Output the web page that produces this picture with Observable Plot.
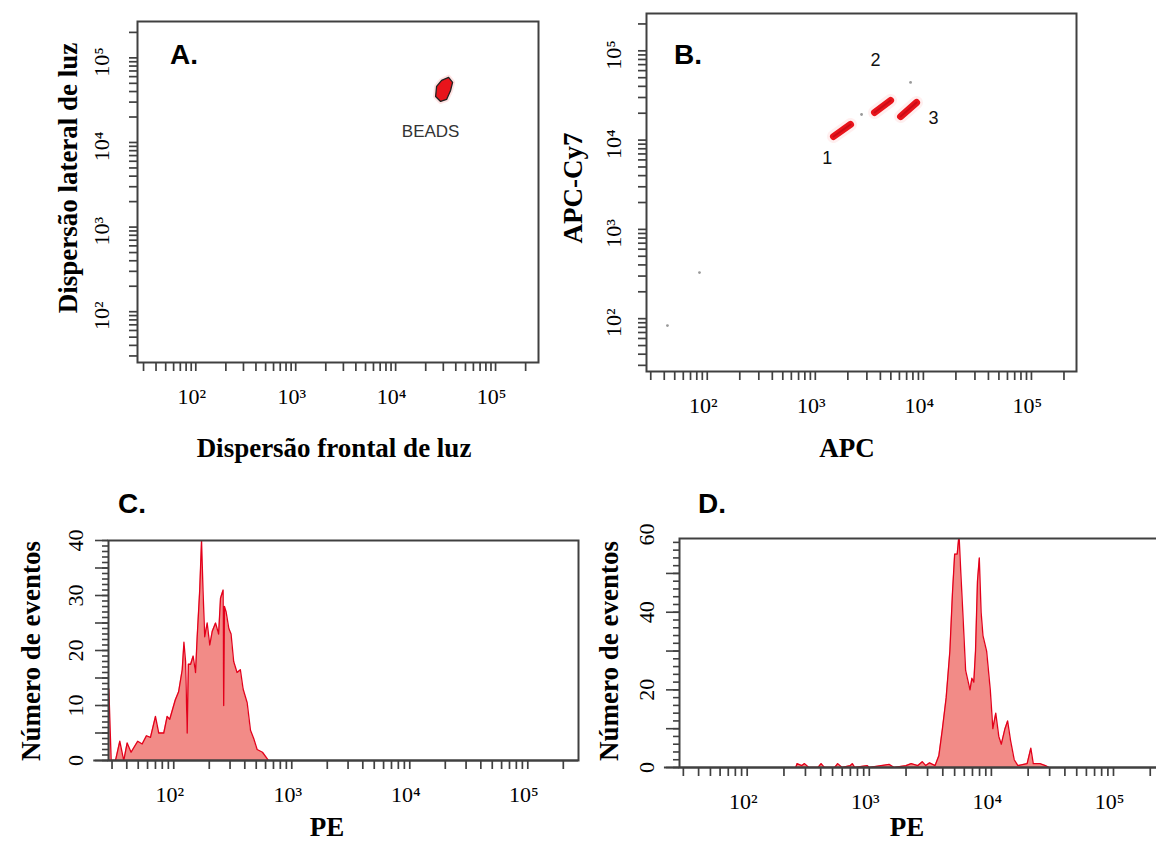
<!DOCTYPE html>
<html><head><meta charset="utf-8">
<script src="https://cdn.jsdelivr.net/npm/d3@7"></script>
<script src="https://cdn.jsdelivr.net/npm/@observablehq/plot@0.6"></script>
<style>
body{margin:0;background:#fff;overflow:hidden}
#wrap{position:relative;width:1156px;height:843px;overflow:hidden;background:#fff}
#wrap svg{position:absolute;overflow:visible}
.ttl{position:absolute;font-family:"Liberation Serif","Times New Roman",serif;font-weight:bold;font-size:27px;color:#000;white-space:nowrap;line-height:0.8;transform:translate(-50%,-50%)}
.rot{transform:translate(-50%,-50%) rotate(-90deg)}
.let{position:absolute;font-family:"Liberation Sans",Arial,sans-serif;font-weight:bold;font-size:28px;line-height:1;color:#000}
</style></head><body><div id="wrap"></div>
<script>
// ---------- tick definitions ----------
const logTicks = [30,40,50,60,70,80,90,100,200,300,400,500,600,700,800,900,1000,2000,3000,4000,5000,6000,7000,8000,9000,10000,20000,30000,40000,50000,60000,70000,80000,90000,100000,200000];
const logMajors = [100, 1000, 10000, 100000];
const logLabels = ["10²", "10³", "10⁴", "10⁵"];
const cYMajors = [0, 10, 20, 30, 40];
const cYLabels = ["0", "10", "20", "30", "40"];
const dYMajors = [0, 20, 40, 60];
const dYLabels = ["0", "20", "40", "60"];

// ---------- panel A: bead gate (FSC vs SSC) ----------
const aGateFSC = [28840, 33890, 37150, 35480, 32360, 28180, 25120, 25700];
const aGateSSC = [54100, 58750, 51290, 41230, 32280, 30550, 35000, 45950];
const aLabel = [{text: "BEADS", x: 22400, y: 13500}];

// ---------- panel B: APC vs APC-Cy7 bead clusters ----------
const bClusterAPC = [[1473, 2118], [3532, 4970], [6150, 8650]];
const bClusterCy7 = [[10970, 14960], [20380, 27800], [18370, 26370]];
const bStrayAPC = [7610, 2680, 84.7, 42.8];
const bStrayCy7 = [44260, 19360, 328, 83.6];
const bNumText = ["1", "2", "3"];
const bNumAPC = [1288, 3606, 12420];
const bNumCy7 = [6220, 78000, 17460];

// ---------- panel C: PE histogram ----------
const cPE = [28.2,29.5,32.1,34.9,37.7,40.3,43.5,46.4,49.5,54.0,58.7,63.5,70.0,74.6,82.3,87.9,92.5,103,110,118,122,126,130,133,139,146,153,158,166,172,177,183,192,202,212,226,240,249,262,265,269,278,293,306,322,344,367,387,419,447,476,509,565,635];
const cCount = [13,0,0,3.5,0,3.2,1.5,2.5,3.5,3.0,4.5,4.2,8.0,5.0,5.0,8.0,7.5,11,12.5,16.5,21.5,18,5,17.5,17.5,19,16,22.5,31,40,31,22.5,25,21,23.5,25,23,29.5,31,10,28,27,24,23,18,16,16.5,13,10.5,5.5,4,2,1.5,0];

// ---------- panel D: PE histogram ----------
const dPE = [250,256,280,295,320,380,403,430,520,551,600,700,727,760,960,1000,1453,1600,2000,2204,2500,2716,2900,3119,3459,3712,3973,4262,4571,4801,5003,5248,5433,5623,5834,6152,6467,6683,6918,7178,7413,7691,7962,8240,8531,9141,9795,10280,10860,11500,12060,12920,13580,14350,15380,16490,19630,21040,22030,25000,27730,29720];
const dCount = [0,1,0.5,1,0,0,1,0,0,1,0,0.5,1,0,0.5,0,0.8,0,0.5,1,0.5,1.5,0.5,1.2,0.5,3,10,18,30,45,55,55,60,50,40,25,22,20,23,22,30,48,54,40,34,30,20,10,14,8,6,10,12,7,2,0.5,1,5,1,1,0.5,0];

// ---------- helpers ----------
const serif = "Liberation Serif, Times New Roman, serif";
const sans = "Liberation Sans, Arial, sans-serif";
const axisCol = "#404040";
const wrap = document.getElementById("wrap");
function place(svg, left, top) { svg.style.left = left + "px"; svg.style.top = top + "px"; wrap.appendChild(svg); }

function logXAxis(dxLab) {
  return [
    Plot.axisX(logTicks, {anchor: "bottom", tickSize: 9, tickFormat: () => "", label: null, stroke: axisCol, strokeWidth: 1.7}),
    Plot.text(logMajors, {x: d => d, text: logLabels, frameAnchor: "bottom", textAnchor: "middle", lineAnchor: "bottom", dy: 41, dx: dxLab, fontSize: 22, fontFamily: serif, fill: "#000"})
  ];
}
function logYAxis(dxLab) {
  return [
    Plot.axisY(logTicks, {anchor: "left", tickSize: 8, tickFormat: () => "", label: null, stroke: axisCol, strokeWidth: 1.7}),
    Plot.text(logMajors, {y: d => d, text: logLabels, frameAnchor: "left", textAnchor: "middle", rotate: -90, lineAnchor: "bottom", dx: dxLab, dy: 4, fontSize: 22, fontFamily: serif, fill: "#000"})
  ];
}
function linYAxis(minor, major, majors, labels) {
  return [
    Plot.axisY(minor, {anchor: "left", tickSize: 6, tickFormat: () => "", label: null, stroke: axisCol, strokeWidth: 1.6}),
    Plot.axisY(major, {anchor: "left", tickSize: 13, tickFormat: () => "", label: null, stroke: axisCol, strokeWidth: 1.6}),
    Plot.text(majors, {y: d => d, text: labels, frameAnchor: "left", textAnchor: "middle", rotate: -90, lineAnchor: "bottom", dx: -26, fontSize: 22, fontFamily: serif, fill: "#000"})
  ];
}
const style = {background: "transparent", overflow: "visible"};

// ---------- Panel A ----------
const gateA = aGateFSC.map((x, i) => ({x, y: aGateSSC[i]}));
const svgA = Plot.plot({
  width: 580, height: 470, marginLeft: 137, marginRight: 42, marginTop: 21, marginBottom: 108,
  style,
  x: {type: "log", domain: [26.1, 269000]},
  y: {type: "log", domain: [25.1, 269000]},
  marks: [
    Plot.line(gateA, {x: "x", y: "y", curve: "linear-closed", fill: "#ffd0d0", stroke: "#ffd0d0", strokeWidth: 5, strokeOpacity: 0.6}),
    Plot.line(gateA, {x: "x", y: "y", curve: "linear-closed", fill: "#e8141b", stroke: "#222", strokeWidth: 1.3}),
    Plot.text(aLabel, {x: "x", y: "y", text: "text", fontSize: 17, fontFamily: sans, fill: "#333"}),
    Plot.frame({stroke: axisCol, strokeWidth: 2}),
    ...logXAxis(-4),
    ...logYAxis(-29)
  ]
});
place(svgA, 0, 0);

// ---------- Panel B ----------
const clustersB = bClusterAPC.flatMap((xs, k) => xs.map((x, i) => ({id: k, x, y: bClusterCy7[k][i]})));
const strayB = bStrayAPC.map((x, i) => ({x, y: bStrayCy7[i]}));
const numsB = bNumText.map((t, i) => ({t, x: bNumAPC[i], y: bNumCy7[i]}));
const svgB = Plot.plot({
  width: 576, height: 470, marginLeft: 66, marginRight: 80, marginTop: 13, marginBottom: 99,
  style,
  x: {type: "log", domain: [27.4, 261200]},
  y: {type: "log", domain: [25.6, 261800]},
  marks: [
    Plot.line(clustersB, {x: "x", y: "y", z: "id", stroke: "#ffd8d8", strokeWidth: 13, strokeOpacity: 0.4, strokeLinecap: "round"}),
    Plot.line(clustersB, {x: "x", y: "y", z: "id", stroke: "#e8141b", strokeWidth: 7, strokeLinecap: "round"}),
    Plot.line(clustersB, {x: "x", y: "y", z: "id", stroke: "#b00010", strokeWidth: 2, strokeOpacity: 0.5, strokeLinecap: "round"}),
    Plot.dot(strayB, {x: "x", y: "y", r: 1.4, fill: "#999", stroke: null}),
    Plot.text(numsB, {x: "x", y: "y", text: "t", fontSize: 18, fontFamily: sans, fill: "#111"}),
    Plot.frame({stroke: axisCol, strokeWidth: 2}),
    ...logXAxis(-4),
    ...logYAxis(-26)
  ]
});
place(svgB, 580, 0);

// ---------- Panel C ----------
const histC = cPE.map((x, i) => ({x, n: cCount[i]}));
const svgC = Plot.plot({
  width: 580, height: 373, marginLeft: 108, marginRight: 2, marginTop: 70, marginBottom: 83,
  style,
  x: {type: "log", domain: [28.0, 269000]},
  y: {domain: [0, 40]},
  marks: [
    Plot.areaY(histC, {x: "x", y: "n", fill: "#f28b87", clip: true}),
    Plot.lineY(histC, {x: "x", y: "n", stroke: "#e3001b", strokeWidth: 1.3, clip: true}),
    Plot.ruleY([0], {x1: 21, x2: 269000, stroke: axisCol, strokeWidth: 2}),
    Plot.frame({stroke: axisCol, strokeWidth: 2}),
    ...logXAxis(-4),
    ...linYAxis(d3.range(0, 41, 1), d3.range(0, 41, 5), cYMajors, cYLabels)
  ]
});
place(svgC, 0, 470);

// ---------- Panel D ----------
const histD = dPE.map((x, i) => ({x, n: dCount[i]}));
const svgD = Plot.plot({
  width: 600, height: 373, marginLeft: 99, marginRight: 15, marginTop: 68, marginBottom: 76,
  style,
  x: {type: "log", domain: [27.9, 266700]},
  y: {domain: [0, 59]},
  marks: [
    Plot.areaY(histD, {x: "x", y: "n", fill: "#f28b87", clip: true}),
    Plot.lineY(histD, {x: "x", y: "n", stroke: "#e3001b", strokeWidth: 1.3, clip: true}),
    Plot.ruleY([0], {x1: 21, x2: 266700, stroke: axisCol, strokeWidth: 2}),
    Plot.frame({stroke: axisCol, strokeWidth: 2}),
    ...logXAxis(-4),
    ...linYAxis(d3.range(0, 59, 2), d3.range(0, 59, 10), dYMajors, dYLabels)
  ]
});
place(svgD, 580, 470);

// ---------- titles ----------
function title(text, cx, cy, rotated) {
  const d = document.createElement("div");
  d.className = "ttl" + (rotated ? " rot" : "");
  d.textContent = text;
  d.style.left = cx + "px"; d.style.top = cy + "px";
  wrap.appendChild(d);
}
function letter(text, left, baseline) {
  const d = document.createElement("div");
  d.className = "let";
  d.textContent = text;
  d.style.left = left + "px"; d.style.top = (baseline - 24) + "px";
  wrap.appendChild(d);
}
title("Dispersão lateral de luz", 69, 178, true);
title("Dispersão frontal de luz", 334, 449, false);
title("APC-Cy7", 574, 188, true);
title("APC", 847, 449, false);
title("Número de eventos", 32, 651, true);
title("PE", 327, 828, false);
title("Número de eventos", 610, 651, true);
title("PE", 907, 828, false);
letter("A.", 170, 65);
letter("B.", 674, 65);
letter("C.", 118, 514);
letter("D.", 698, 514);
</script></body></html>
